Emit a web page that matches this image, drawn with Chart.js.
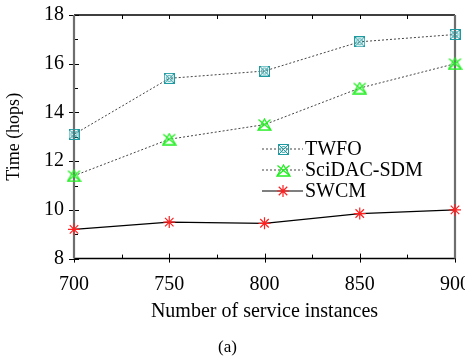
<!DOCTYPE html>
<html lang="en">
<head>
    <meta charset="UTF-8">
    <title>Time vs service instances</title>
    <script src="https://cdn.jsdelivr.net/npm/chart.js"></script>
    <style>
        body { margin: 0; background: #fff; }
        #wrap { width: 465px; height: 360px; }
    </style>
</head>
<body>
    <div id="wrap"><canvas id="chart"></canvas></div>
    <script>
        // Datos
        const instances = [700, 750, 800, 850, 900];
        const twfo = [13.1, 15.4, 15.7, 16.9, 17.2];
        const scidac = [11.4, 12.9, 13.5, 15.0, 16.0];
        const swcm = [9.2, 9.5, 9.45, 9.85, 10.0];
        const seriesNames = ['TWFO', 'SciDAC-SDM', 'SWCM'];
        const yTicks = [8, 10, 12, 14, 16, 18];

        const serif = "'Liberation Serif', 'DejaVu Serif', serif";

        // Marcadores dibujados en pequenos canvas
        function twfoMarker() {
            const c = document.createElement('canvas');
            c.width = 11; c.height = 11;
            const g = c.getContext('2d');
            g.strokeStyle = '#1f9aa0';
            g.lineWidth = 1;
            g.strokeRect(0.5, 0.5, 10, 10);
            g.beginPath(); g.arc(5.5, 5.5, 3, 0, Math.PI * 2); g.stroke();
            g.beginPath();
            g.moveTo(1, 1); g.lineTo(10, 10);
            g.moveTo(10, 1); g.lineTo(1, 10);
            g.stroke();
            return c;
        }
        function scidacMarker() {
            const c = document.createElement('canvas');
            c.width = 15; c.height = 13;
            const g = c.getContext('2d');
            g.strokeStyle = '#22ee22';
            g.lineWidth = 1.3;
            g.beginPath();
            g.moveTo(7.5, 1); g.lineTo(14, 12); g.lineTo(1, 12); g.closePath();
            g.stroke();
            g.beginPath();
            g.moveTo(1.5, 1.5); g.lineTo(13.5, 11.5);
            g.moveTo(13.5, 1.5); g.lineTo(1.5, 11.5);
            g.stroke();
            return c;
        }
        const markerTwfo = twfoMarker();
        const markerScidac = scidacMarker();

        const framePlugin = {
            id: 'frame',
            beforeDatasetsDraw(chart) {
                const { ctx, chartArea: a, scales } = chart;
                ctx.save();
                // ticks: mayores cruzan el eje, menores hacia dentro
                ctx.strokeStyle = '#000';
                ctx.lineWidth = 1;
                ctx.beginPath();
                for (let v = 8; v <= 18; v += 1) {
                    const y = Math.round(scales.y.getPixelForValue(v)) + 0.5;
                    const major = v % 2 === 0;
                    ctx.moveTo(a.left - (major ? 5 : 0), y); ctx.lineTo(a.left + (major ? 5 : 4), y);
                }
                for (let v = 700; v <= 900; v += 25) {
                    const x = Math.round(scales.x.getPixelForValue(v)) + 0.5;
                    const major = v % 50 === 0;
                    ctx.moveTo(x, a.bottom + (major ? 4 : 0)); ctx.lineTo(x, a.bottom - (major ? 5 : 4));
                    ctx.moveTo(x, a.top); ctx.lineTo(x, a.top + 4);
                }
                ctx.stroke();
                // borde superior e inferior
                ctx.lineWidth = 1.5;
                ctx.beginPath();
                ctx.moveTo(a.left, a.top); ctx.lineTo(a.right, a.top);
                ctx.moveTo(a.left, a.bottom); ctx.lineTo(a.right, a.bottom);
                ctx.stroke();
                // bordes laterales grises
                ctx.strokeStyle = '#6e6e6e';
                ctx.lineWidth = 2.2;
                ctx.beginPath();
                ctx.moveTo(a.left, a.top); ctx.lineTo(a.left, a.bottom);
                ctx.moveTo(a.right, a.top); ctx.lineTo(a.right, a.bottom);
                ctx.stroke();
                ctx.restore();
            }
        };

        const legendPlugin = {
            id: 'innerLegend',
            afterDraw(chart) {
                const ctx = chart.ctx;
                const x0 = 262, x1 = 303, xm = 283;
                const rows = [149, 170, 191];
                ctx.save();
                chart.data.datasets.forEach((ds, i) => {
                    const y = rows[i];
                    ctx.strokeStyle = ds.borderColor;
                    ctx.lineWidth = ds.borderWidth;
                    ctx.setLineDash(ds.borderDash || []);
                    ctx.beginPath();
                    ctx.moveTo(x0, y); ctx.lineTo(x1, y);
                    ctx.stroke();
                    ctx.setLineDash([]);
                    if (ds.pointStyle instanceof HTMLCanvasElement) {
                        const img = ds.pointStyle;
                        ctx.drawImage(img, Math.round(xm - img.width / 2), Math.round(y - img.height / 2));
                    } else {
                        ctx.strokeStyle = ds.pointBorderColor;
                        ctx.fillStyle = ds.pointBackgroundColor;
                        ctx.lineWidth = ds.pointBorderWidth;
                        Chart.helpers.drawPoint(ctx, {
                            pointStyle: ds.pointStyle,
                            radius: ds.pointRadius,
                            borderWidth: ds.pointBorderWidth
                        }, xm, y);
                    }
                    ctx.fillStyle = '#000';
                    ctx.font = '20px ' + serif;
                    ctx.textBaseline = 'middle';
                    ctx.fillText(ds.label, 305, y + 1);
                });
                ctx.restore();
            }
        };

        const toPoints = (vals) => instances.map((x, i) => ({ x, y: vals[i] }));

        new Chart(document.getElementById('chart'), {
            type: 'line',
            data: {
                datasets: [
                    {
                        label: seriesNames[0],
                        data: toPoints(twfo),
                        borderColor: '#444',
                        borderWidth: 1,
                        borderDash: [2, 2],
                        pointStyle: markerTwfo,
                        pointRadius: 6
                    },
                    {
                        label: seriesNames[1],
                        data: toPoints(scidac),
                        borderColor: '#444',
                        borderWidth: 1,
                        borderDash: [2, 2],
                        pointStyle: markerScidac,
                        pointRadius: 7
                    },
                    {
                        label: seriesNames[2],
                        data: toPoints(swcm),
                        borderColor: '#000',
                        borderWidth: 1.2,
                        pointStyle: 'star',
                        pointRadius: 6,
                        pointBorderColor: '#ff2020',
                        pointBackgroundColor: '#ff2020',
                        pointBorderWidth: 1.2
                    }
                ]
            },
            options: {
                responsive: true,
                maintainAspectRatio: false,
                animation: false,
                tension: 0,
                clip: false,
                layout: { padding: { left: 0, right: 10, top: 15, bottom: 2 } },
                plugins: {
                    legend: { display: false },
                    tooltip: { enabled: false },
                    title: {
                        display: true,
                        text: '(a)',
                        position: 'bottom',
                        color: '#000',
                        font: { family: serif, size: 17, weight: 'normal' },
                        padding: { top: 12, bottom: 0 }
                    }
                },
                scales: {
                    x: {
                        type: 'linear',
                        min: 700,
                        max: 900,
                        grid: { display: false, drawTicks: false },
                        border: { display: false },
                        ticks: {
                            stepSize: 50,
                            padding: 14,
                            color: '#000',
                            font: { family: serif, size: 20 }
                        },
                        title: {
                            display: true,
                            text: 'Number of service instances',
                            color: '#000',
                            font: { family: serif, size: 20 },
                            padding: { top: 0, bottom: 2 }
                        },
                        afterFit(scale) {
                            scale.height = 67;
                            scale.paddingLeft = 0;
                            scale.paddingRight = 0;
                        }
                    },
                    y: {
                        min: 8,
                        max: 18,
                        grid: { display: false, drawTicks: false },
                        border: { display: false },
                        afterBuildTicks(scale) {
                            scale.ticks = yTicks.map(v => ({ value: v }));
                        },
                        ticks: {
                            padding: 10,
                            color: '#000',
                            font: { family: serif, size: 20 }
                        },
                        title: {
                            display: true,
                            text: 'Time (hops)',
                            color: '#000',
                            font: { family: serif, size: 18 },
                            padding: { top: 3, bottom: 0 }
                        },
                        afterFit(scale) {
                            scale.width = 74;
                            scale.paddingTop = 0;
                            scale.paddingBottom = 0;
                        }
                    }
                }
            },
            plugins: [framePlugin, legendPlugin]
        });
    </script>
</body>
</html>
